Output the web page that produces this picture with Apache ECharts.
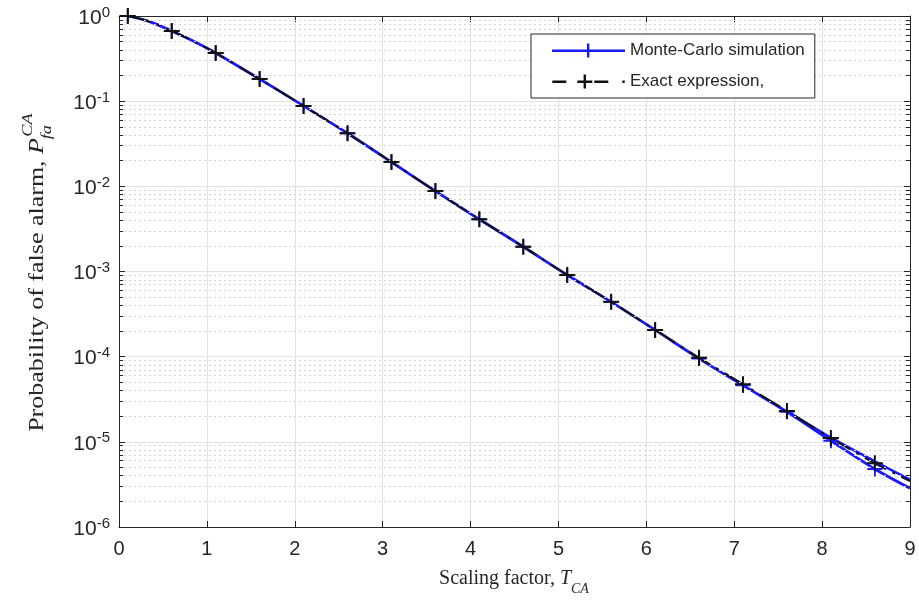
<!DOCTYPE html>
<html>
<head>
<meta charset="utf-8">
<script src="https://cdn.jsdelivr.net/npm/echarts@6/dist/echarts.min.js"></script>
<style>
  html, body { margin: 0; padding: 0; background: #ffffff; }
  #chart { width: 919px; height: 613px; }
</style>
</head>
<body>
<div id="chart"></div>
<script>
// Scaling factor T_CA at which both curves are sampled
const tLine = [0.1, 0.35, 0.6, 0.85, 1.1, 1.6, 2.1, 2.6, 3.1, 3.6, 4.1, 4.6,
               5.1, 5.6, 6.1, 6.6, 7.1, 7.6, 8.1, 8.6, 9.0];
// Closed-form probability of false alarm
const pfaExact = [1.0, 0.86, 0.667, 0.505, 0.368, 0.182, 0.088, 0.042, 0.0193,
                  0.0088, 0.0041, 0.00195, 0.00091, 0.00044, 0.000206, 9.7e-5,
                  4.75e-5, 2.3e-5, 1.11e-5, 5.6e-6, 3.45e-6];
// Monte-Carlo estimate of the same quantity
const pfaMonteCarlo = [1.0, 0.86, 0.667, 0.505, 0.368, 0.182, 0.088, 0.042, 0.0193,
                       0.0088, 0.0041, 0.00195, 0.00091, 0.00044, 0.000206, 9.5e-5,
                       4.6e-5, 2.25e-5, 1.03e-5, 4.8e-6, 2.85e-6];
// Second Monte-Carlo run, only distinguishable at the far tail
const tTail = [7.6, 8.1, 8.6, 9.0];
const pfaMonteCarloTail = [2.3e-5, 1.12e-5, 5.9e-6, 3.6e-6];
// Marker positions (every 0.5 starting at 0.1)
const tMarks = [0.1, 0.6, 1.1, 1.6, 2.1, 2.6, 3.1, 3.6, 4.1, 4.6, 5.1, 5.6,
                6.1, 6.6, 7.1, 7.6, 8.1, 8.6];
// Decades shown on the probability axis
const yDecades = [-6, -5, -4, -3, -2, -1, 0];

const SANS = '"Liberation Sans", Arial, Helvetica, sans-serif';
const SERIF = '"Liberation Serif", "Times New Roman", serif';
const INK = '#262626';
const BLUE = '#1a1aff';
const BLACK = '#111111';

const pairs = (xs, ys) => xs.map((x, i) => [x, ys[i]]);
const marks = ys => tMarks.map(t => [t, ys[tLine.indexOf(t)]]);

// minor logarithmic grid positions 2..9 x 10^d
const minorVals = [];
yDecades.slice(0, -1).forEach(d => {
  for (let k = 2; k <= 9; k++) minorVals.push(k * Math.pow(10, d));
});

const PLUS = 'path://M7,0h2v16h-2z M0,7h16v2h-16z';
const ICON_MC = 'path://M0,6h73v2.4h-73z M35,0h2.4v14h-2.4z';
const ICON_EX = 'path://M0,6h14v2.4h-14z M25,6h15v2.4h-15z M31.3,0h2.4v14h-2.4z M42,6h14v2.4h-14z M70,6h2.4v2.4h-2.4z';

// text measuring for the composed axis titles
const measureCtx = document.createElement('canvas').getContext('2d');
function textWidth(str, font) { measureCtx.font = font; return measureCtx.measureText(str).width; }

const F_MAIN = '20px ' + SERIF;
const F_ITAL = 'italic 20px ' + SERIF;
const F_SMALL = 'italic 14px ' + SERIF;

function yTitle() {
  const main = 'Probability of false alarm, ';
  const wMain = textWidth(main, F_MAIN);
  const wP = textWidth('P', F_ITAL);
  const wSup = textWidth('CA', F_SMALL);
  const total = wMain + wP + wSup + 2;
  const x0 = -total / 2;
  const st = (text, font) => ({ text, font, fill: INK, align: 'left', verticalAlign: 'middle' });
  return {
    type: 'group', x: 38, y: 272, rotation: Math.PI / 2, scaleX: 1.3, silent: true,
    children: [
      { type: 'text', x: x0, y: 0, style: st(main, F_MAIN) },
      { type: 'text', x: x0 + wMain, y: 0, style: st('P', F_ITAL) },
      { type: 'text', x: x0 + wMain + wP + 1, y: -10, style: st('CA', F_SMALL) },
      { type: 'text', x: x0 + wMain + wP - 1, y: 9, style: st('fa', F_SMALL) }
    ]
  };
}

function xTitle() {
  const main = 'Scaling factor, ';
  const wMain = textWidth(main, F_MAIN);
  const wT = textWidth('T', F_ITAL);
  const wSub = textWidth('CA', F_SMALL);
  const total = wMain + wT + wSub;
  const x0 = -total / 2;
  const st = (text, font) => ({ text, font, fill: INK, align: 'left', verticalAlign: 'middle' });
  return {
    type: 'group', x: 514, y: 579, silent: true,
    children: [
      { type: 'text', x: x0, y: 0, style: st(main, F_MAIN) },
      { type: 'text', x: x0 + wMain, y: 0, style: st('T', F_ITAL) },
      { type: 'text', x: x0 + wMain + wT, y: 10, style: st('CA', F_SMALL) }
    ]
  };
}

const tickStyle = { show: true, inside: true, length: 6, lineStyle: { color: INK, width: 1 } };
const lineAxis = { show: true, onZero: false, lineStyle: { color: INK, width: 1 } };

const chart = echarts.init(document.getElementById('chart'), null, { renderer: 'canvas' });

chart.setOption({
  animation: false,
  backgroundColor: '#ffffff',
  grid: { left: 119, right: 9, top: 16, bottom: 86, containLabel: false },
  graphic: [yTitle(), xTitle()],
  legend: {
    left: 531, top: 34, z: 50, zlevel: 1,
    orient: 'vertical',
    backgroundColor: '#ffffff',
    borderColor: INK, borderWidth: 1,
    padding: [8, 10, 8, 21],
    itemWidth: 73, itemHeight: 14, itemGap: 14,
    textStyle: { fontFamily: SANS, fontSize: 17, color: INK },
    selectedMode: false,
    data: [
      { name: 'Monte-Carlo simulation', icon: ICON_MC, itemStyle: { color: BLUE, borderWidth: 0 } },
      { name: 'Exact expression,', icon: ICON_EX, itemStyle: { color: BLACK, borderWidth: 0 } }
    ]
  },
  xAxis: [
    {
      type: 'value', min: 0, max: 9, interval: 1, position: 'bottom',
      axisLine: lineAxis, axisTick: tickStyle,
      axisLabel: { margin: 12, fontFamily: SANS, fontSize: 20, color: INK },
      splitLine: { show: true, lineStyle: { color: '#e2e2e2', width: 1 } }
    },
    {
      type: 'value', min: 0, max: 9, interval: 1, position: 'top',
      axisLine: lineAxis, axisTick: tickStyle,
      axisLabel: { show: false }, splitLine: { show: false }
    }
  ],
  yAxis: [
    {
      type: 'log', logBase: 10, min: 1e-6, max: 1, splitNumber: 6, position: 'left',
      axisLine: lineAxis, axisTick: tickStyle,
      axisLabel: {
        margin: 9, color: INK,
        formatter: v => '{b|10}{s|' + Math.round(Math.log10(v)) + '}',
        rich: {
          b: { fontFamily: SANS, fontSize: 21, color: INK, lineHeight: 22, padding: [4, 0, 0, 0] },
          s: { fontFamily: SANS, fontSize: 15, color: INK, lineHeight: 16, verticalAlign: 'top' }
        }
      },
      splitLine: { show: true, lineStyle: { color: '#e2e2e2', width: 1 } }
    },
    {
      type: 'log', logBase: 10, min: 1e-6, max: 1, splitNumber: 6, position: 'right',
      axisLine: lineAxis, axisTick: tickStyle,
      axisLabel: { show: false }, splitLine: { show: false }
    }
  ],
  series: [
    {
      // minor log grid and minor ticks on the left/right frame
      name: 'minor-grid', type: 'line', data: [], silent: true, z: 1,
      markLine: {
        silent: true, symbol: ['none', 'none'], label: { show: false }, animation: false,
        precision: 12,
        lineStyle: { color: '#d4d4d4', width: 1, type: [2, 3] },
        data: minorVals.map(v => ({ yAxis: v }))
          .concat(minorVals.map(v => [
            { coord: [0, v], lineStyle: { color: INK, type: 'solid', width: 1 } },
            { coord: [0.045, v] }
          ]))
          .concat(minorVals.map(v => [
            { coord: [9, v], lineStyle: { color: INK, type: 'solid', width: 1 } },
            { coord: [8.955, v] }
          ]))
      }
    },
    {
      name: 'Monte-Carlo simulation', type: 'line', data: pairs(tLine, pfaMonteCarlo),
      showSymbol: false, smooth: 0.3, z: 3,
      lineStyle: { color: BLUE, width: 2.8 }, itemStyle: { color: BLUE }
    },
    {
      name: 'Monte-Carlo simulation', type: 'line', data: pairs(tTail, pfaMonteCarloTail),
      showSymbol: false, smooth: 0.3, z: 3,
      lineStyle: { color: BLUE, width: 2.6 }, itemStyle: { color: BLUE }
    },
    {
      name: 'Exact expression,', type: 'line', data: pairs(tLine, pfaExact),
      showSymbol: false, smooth: 0.3, z: 4,
      lineStyle: { color: BLACK, width: 2, type: [24, 7, 3, 7] }, itemStyle: { color: BLACK }
    },
    {
      name: 'Monte-Carlo simulation', type: 'scatter', data: marks(pfaMonteCarlo),
      symbol: PLUS, symbolSize: 15, z: 5,
      itemStyle: { color: BLUE, opacity: 1 }
    },
    {
      name: 'Exact expression,', type: 'scatter', data: marks(pfaExact),
      symbol: PLUS, symbolSize: 16, z: 6,
      itemStyle: { color: BLACK, opacity: 1 }
    }
  ]
});
</script>
</body>
</html>
